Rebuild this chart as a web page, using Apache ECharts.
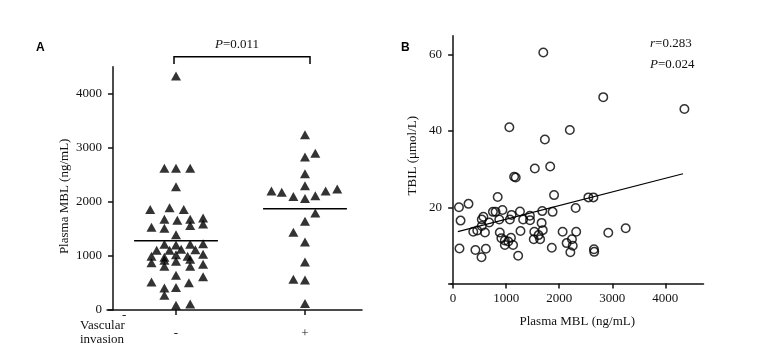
<!DOCTYPE html>
<html>
<head>
<meta charset="utf-8">
<script src="https://cdn.jsdelivr.net/npm/echarts@6/dist/echarts.min.js"></script>
<style>
html, body { margin: 0; padding: 0; background: #fff; }
#chart { width: 780px; height: 350px; }
</style>
</head>
<body>
<div id="chart"></div>
<script>
// panel A: plasma MBL per patient, x = spread around group position (1 = "-", 2 = "+")
var groupLabels = ['-', '+'];
var groupPos = [1, 2];
var mblNoInvasion = [
    [1.00, 4330], [0.91, 2620], [1.00, 2620], [1.11, 2620], [1.00, 2280],
    [0.80, 1860], [0.95, 1890], [1.06, 1860], [0.91, 1680], [1.01, 1660],
    [1.11, 1680], [1.21, 1700], [0.81, 1530], [0.91, 1510], [1.11, 1565],
    [1.21, 1590], [1.00, 1390], [0.91, 1215], [1.00, 1200], [1.11, 1215],
    [1.21, 1225], [0.85, 1105], [0.95, 1105], [1.04, 1125], [1.15, 1115],
    [0.81, 995], [0.91, 975], [1.00, 1020], [1.09, 995], [1.21, 1030],
    [0.81, 875], [0.91, 920], [0.91, 810], [1.00, 900], [1.11, 940],
    [1.11, 810], [1.21, 845], [1.00, 645], [1.21, 615], [1.10, 505],
    [0.81, 520], [0.91, 405], [1.00, 415], [0.91, 275], [1.00, 90],
    [1.11, 110]
];
var mblInvasion = [
    [2.00, 3240], [2.00, 2830], [2.08, 2900], [2.00, 2520], [2.00, 2300],
    [1.74, 2200], [1.82, 2180], [1.91, 2100], [2.00, 2060], [2.08, 2115],
    [2.16, 2200], [2.25, 2240], [2.08, 1795], [2.00, 1640], [1.91, 1440],
    [2.00, 1260], [2.00, 890], [1.91, 570], [2.00, 555], [2.00, 120]
];
var medianNoInvasion = 1283;
var medianInvasion = 1873;
var mblTicks = [0, 1000, 2000, 3000, 4000];

// panel B: plasma MBL (ng/mL) vs TBIL (umol/L)
var mblVsTbil = [
    [1700, 60.6], [2830, 48.9], [4360, 45.8], [1060, 41.0], [2200, 40.3],
    [1730, 37.8], [1540, 30.2], [1830, 30.7], [1150, 28.0], [1180, 27.8],
    [110, 20.0], [290, 20.9], [140, 16.5], [120, 9.2], [420, 8.8],
    [535, 6.9], [617, 9.1], [380, 13.6], [455, 13.9], [540, 16.8],
    [540, 15.1], [600, 13.4], [680, 16.0], [840, 22.7], [800, 18.8],
    [930, 19.3], [870, 16.8], [880, 13.4], [910, 11.9], [975, 11.3],
    [975, 10.1], [1070, 16.8], [1090, 12.0], [1130, 10.1], [1226, 7.3],
    [1260, 18.9], [1270, 13.8], [1320, 16.8], [1447, 17.8], [1450, 16.6],
    [1530, 13.6], [1520, 11.6], [1610, 12.7], [1668, 15.9], [1680, 19.0],
    [1690, 14.0], [1640, 11.6], [1875, 18.8], [1903, 23.2], [1860, 9.4],
    [2064, 13.6], [2140, 10.6], [2240, 11.6], [2255, 9.9], [2210, 8.2],
    [2320, 13.6], [2310, 19.8], [2550, 22.6], [2645, 22.6], [2655, 9.0],
    [2660, 8.3], [2925, 13.3], [3253, 14.5], [1040, 11.0], [570, 17.5],
    [750, 18.8], [1102, 18.0]
];
var fitLine = [[89, 13.6], [4334, 28.8]];
var bxTicks = [0, 1000, 2000, 3000, 4000];
var byTicks = [20, 40, 60];

var serif = '"Liberation Serif", "Times New Roman", serif';
var ink = '#111';

var chart = echarts.init(document.getElementById('chart'));

function plain(v) { return String(v); }

function axisBase() {
    return {
        axisLine: { show: true, lineStyle: { color: ink, width: 1.5 } },
        splitLine: { show: false },
        axisLabel: { color: ink, fontFamily: serif, fontSize: 13, formatter: plain },
        nameTextStyle: { color: ink, fontFamily: serif, fontSize: 13 }
    };
}

var xA = axisBase();
xA.gridIndex = 0;
xA.type = 'value';
xA.min = 0.465;
xA.max = 2.442;
xA.axisTick = { customValues: groupPos, length: 5, lineStyle: { color: ink, width: 1.5 } };
xA.axisLabel.customValues = groupPos;
xA.axisLabel.margin = 17;
xA.axisLabel.formatter = function(v) { return groupLabels[Math.round(v) - 1]; };

var yA = axisBase();
yA.gridIndex = 0;
yA.type = 'value';
yA.min = 0;
yA.max = 4500;
yA.offset = -6;
yA.axisTick = { customValues: mblTicks, length: 5, lineStyle: { color: ink, width: 1.5 } };
yA.axisLabel.customValues = mblTicks;
yA.axisLabel.margin = 11;
yA.name = 'Plasma MBL (ng/mL)';
yA.nameLocation = 'middle';
yA.nameGap = 42;
yA.nameTextStyle.padding = [0, 16, 0, 0];

var xB = axisBase();
xB.gridIndex = 1;
xB.type = 'value';
xB.min = -40;
xB.max = 4720;
xB.axisTick = { customValues: bxTicks, length: 5, lineStyle: { color: ink, width: 1.5 } };
xB.axisLabel.customValues = bxTicks;
xB.axisLabel.margin = 9;
xB.name = 'Plasma MBL (ng/mL)';
xB.nameLocation = 'middle';
xB.nameGap = 32;

var yB = axisBase();
yB.gridIndex = 1;
yB.type = 'value';
yB.min = 0;
yB.max = 65;
yB.axisTick = { customValues: [0].concat(byTicks), length: 5, lineStyle: { color: ink, width: 1.5 } };
yB.axisLabel.customValues = byTicks;
yB.axisLabel.margin = 9;
yB.name = 'TBIL (μmol/L)';
yB.nameLocation = 'middle';
yB.nameGap = 32;
yB.nameTextStyle.padding = [0, 0, 0, 8];

var option = {
    animation: false,
    backgroundColor: '#fff',
    grid: [
        { left: 107, top: 66.7, width: 255, height: 243.3 },
        { left: 451, top: 35.8, width: 252.5, height: 247.7 }
    ],
    xAxis: [xA, xB],
    yAxis: [yA, yB],
    series: [
        {
            type: 'scatter', xAxisIndex: 0, yAxisIndex: 0,
            symbol: 'triangle', symbolSize: [10, 9],
            itemStyle: { color: '#000' },
            data: mblNoInvasion
        },
        {
            type: 'scatter', xAxisIndex: 0, yAxisIndex: 0,
            symbol: 'triangle', symbolSize: [10, 9],
            itemStyle: { color: '#000' },
            data: mblInvasion
        },
        {
            type: 'line', xAxisIndex: 0, yAxisIndex: 0, symbol: 'none',
            lineStyle: { color: '#000', width: 1.5 },
            data: [[0.675, medianNoInvasion], [1.325, medianNoInvasion]]
        },
        {
            type: 'line', xAxisIndex: 0, yAxisIndex: 0, symbol: 'none',
            lineStyle: { color: '#000', width: 1.5 },
            data: [[1.675, medianInvasion], [2.325, medianInvasion]]
        },
        {
            type: 'scatter', xAxisIndex: 1, yAxisIndex: 1,
            symbol: 'circle', symbolSize: 8.5,
            itemStyle: { color: 'rgba(255,255,255,0)', borderColor: '#000', borderWidth: 1.5 },
            data: mblVsTbil
        },
        {
            type: 'line', xAxisIndex: 1, yAxisIndex: 1, symbol: 'none',
            lineStyle: { color: '#000', width: 1.2 },
            data: fitLine
        }
    ],
    graphic: [
        { type: 'text', left: 36, top: 42, style: { text: 'A', fontFamily: '"Liberation Sans", Arial, sans-serif', fontWeight: 'bold', fontSize: 12, fill: '#000' } },
        { type: 'text', left: 401, top: 42, style: { text: 'B', fontFamily: '"Liberation Sans", Arial, sans-serif', fontWeight: 'bold', fontSize: 12, fill: '#000' } },
        {
            type: 'text', x: 237, y: 45,
            style: { text: '{i|P}=0.011', rich: { i: { fontStyle: 'italic', fontFamily: serif, fontSize: 13 } }, fontFamily: serif, fontSize: 13, fill: ink, align: 'center', verticalAlign: 'middle' }
        },
        {
            type: 'polyline',
            shape: { points: [[174, 64], [174, 56.7], [310, 56.7], [310, 64]] },
            style: { stroke: '#000', lineWidth: 1.5, fill: null }
        },
        { type: 'text', x: 80, y: 326, style: { text: 'Vascular', fontFamily: serif, fontSize: 13, fill: ink, verticalAlign: 'middle' } },
        { type: 'text', x: 80, y: 340, style: { text: 'invasion', fontFamily: serif, fontSize: 13, fill: ink, verticalAlign: 'middle' } },
        { type: 'text', x: 122, y: 316, style: { text: '-', fontFamily: serif, fontSize: 13, fill: ink, verticalAlign: 'middle' } },
        {
            type: 'text', x: 650, y: 44,
            style: { text: '{i|r}=0.283', rich: { i: { fontStyle: 'italic', fontFamily: serif, fontSize: 13 } }, fontFamily: serif, fontSize: 13, fill: ink, verticalAlign: 'middle' }
        },
        {
            type: 'text', x: 650, y: 65,
            style: { text: '{i|P}=0.024', rich: { i: { fontStyle: 'italic', fontFamily: serif, fontSize: 13 } }, fontFamily: serif, fontSize: 13, fill: ink, verticalAlign: 'middle' }
        }
    ]
};
chart.setOption(option);
</script>
</body>
</html>
